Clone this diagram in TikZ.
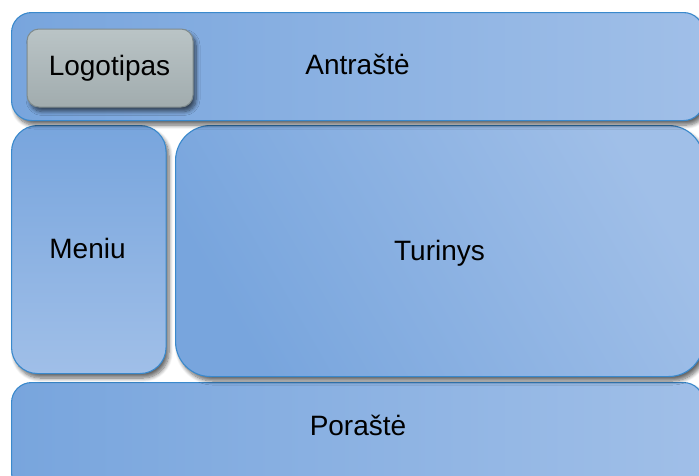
\documentclass[tikz,border=0pt]{standalone}
\usepackage{fontspec}
\setmainfont{Liberation Sans}
\usetikzlibrary{shadows.blur}
\definecolor{bdr}{HTML}{3A89CC}
\definecolor{blueA}{HTML}{78A5DD}
\definecolor{blueB}{HTML}{A0BFE8}
\definecolor{grayA}{HTML}{BAC4C6}
\definecolor{grayB}{HTML}{A1ACAE}
\definecolor{grayBd}{HTML}{7F8B8D}
\tikzset{
  shad/.style={blur shadow={shadow xshift=3pt, shadow yshift=-4.5pt, shadow blur steps=8, shadow blur radius=4pt, shadow opacity=60}},
  panel/.style={draw=bdr, line width=1.1pt, inner sep=0pt, anchor=north west, shad},
  lbl/.style={font=\fontsize{28}{32}\selectfont, anchor=base, inner sep=0pt, text=black}
}
\begin{document}
\begin{tikzpicture}[x=1pt,y=-1pt]
\useasboundingbox (0,0) rectangle (699,475);
% footer
\node[panel, rounded corners=20pt, minimum width=692pt, minimum height=110pt,
  left color=blueA, right color=blueB] (footer) at (11,382) {};
% content
\node[panel, rounded corners=35pt, minimum width=528pt, minimum height=251pt,
  left color=blueA, right color=blueB, shading angle=120] (content) at (175,125) {};
% menu
\node[panel, rounded corners=26pt, minimum width=154.5pt, minimum height=248pt,
  top color=blueA, bottom color=blueB] (menu) at (11,125) {};
% header
\node[panel, rounded corners=20pt, minimum width=692pt, minimum height=108pt,
  left color=blueA, right color=blueB] (header) at (11,12) {};
% logo
\node[draw=grayBd, line width=1pt, inner sep=0pt, anchor=north west, rounded corners=12pt,
  minimum width=166pt, minimum height=78pt, top color=grayA, bottom color=grayB, shad]
  (logo) at (26.5,28.5) {};
% labels
\node[lbl] (tlogo) at (109.5,75) {Logotipas};
\node[lbl] (thead) at (357.5,74.5) {Antraštė};
\node[lbl] (tmenu) at (87.5,258) {Meniu};
\node[lbl] (tcont) at (439.5,260) {Turinys};
\node[lbl] (tfoot) at (358,435) {Poraštė};
\end{tikzpicture}
\end{document}
